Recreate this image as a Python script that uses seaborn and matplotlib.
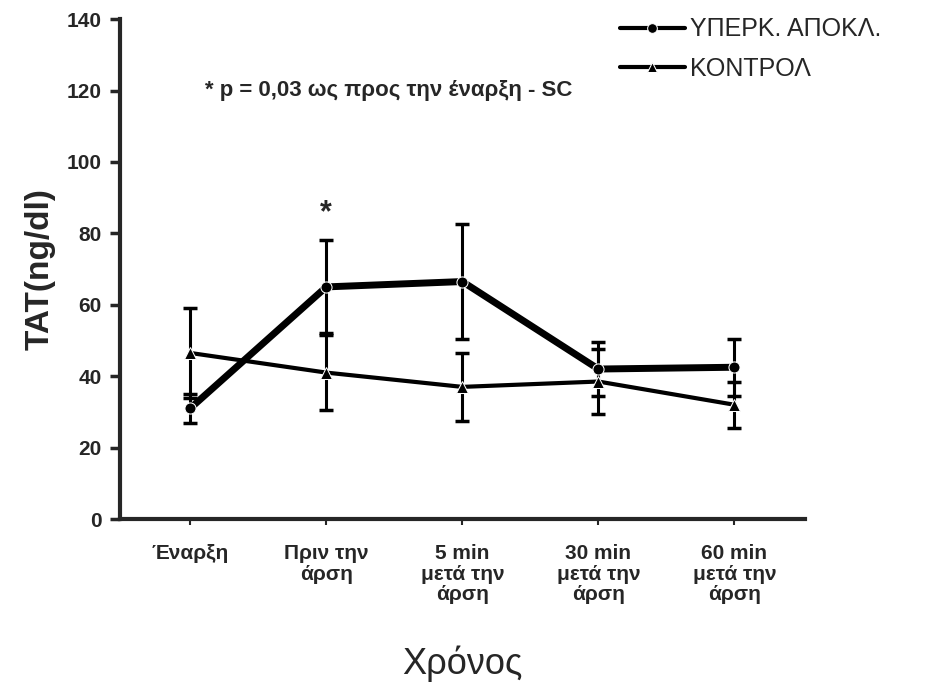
import pandas as pd
import matplotlib
matplotlib.use("Agg")
import matplotlib.pyplot as plt
import seaborn as sns

# data
times = ["Έναρξη", "Πριν την\nάρση", "5 min\nμετά την\nάρση", "30 min\nμετά την\nάρση", "60 min\nμετά την\nάρση"]
hyper_mean = [31, 65, 66.5, 42, 42.5]
hyper_err = [4, 13, 16, 7.5, 8]
control_mean = [46.5, 41, 37, 38.5, 32]
control_err = [12.5, 10.5, 9.5, 9, 6.5]
groups = ["ΥΠΕΡΚ. ΑΠΟΚΛ.", "ΚΟΝΤΡΟΛ"]

sns.set_style("white")
plt.rcParams['font.family'] = ['Liberation Sans', 'DejaVu Sans']

df = pd.DataFrame({
    'x': list(range(len(times))) * 2,
    'TAT': hyper_mean + control_mean,
    'group': [groups[0]] * len(times) + [groups[1]] * len(times),
})

fig = plt.figure(figsize=(9.34, 6.82), dpi=100)
ax = fig.add_axes([0.128, 0.239, 0.734, 0.733])

# error bars first, lines on top
ax.errorbar(range(len(times)), hyper_mean, yerr=hyper_err, fmt='none',
            ecolor='black', elinewidth=2.2, capsize=5, capthick=2.5, zorder=2)
ax.errorbar(range(len(times)), control_mean, yerr=control_err, fmt='none',
            ecolor='black', elinewidth=2.2, capsize=5, capthick=2.5, zorder=2)

sns.lineplot(data=df[df['group'] == groups[0]], x='x', y='TAT', ax=ax,
             color='black', linewidth=5, marker='o', markersize=8,
             label=groups[0], zorder=3)
sns.lineplot(data=df[df['group'] == groups[1]], x='x', y='TAT', ax=ax,
             color='black', linewidth=3, marker='^', markersize=8,
             label=groups[1], zorder=3)

ax.set_xlim(-0.52, 4.52)
ax.set_ylim(0, 140)
ax.set_yticks(range(0, 141, 20))
ax.set_xticks(range(len(times)))
ax.set_xticklabels(times, fontsize=15, fontweight='bold', linespacing=1.1)
for lab in ax.get_yticklabels():
    lab.set_fontsize(15)
    lab.set_fontweight('bold')

sns.despine(ax=ax)
ax.spines['left'].set_linewidth(3)
ax.spines['bottom'].set_linewidth(3)
ax.tick_params(axis='y', direction='out', length=7, width=2.5, left=True, pad=6)
ax.tick_params(axis='x', direction='out', length=4, width=1.5, bottom=True, pad=14)

ax.set_xlabel("Χρόνος", fontsize=26, labelpad=30)
ax.set_ylabel("TAT(ng/dl)", fontsize=24, fontweight='bold', labelpad=8)

ax.text(1, 81.5, "*", fontsize=22, fontweight='bold', ha='center', va='bottom')
ax.text(0.22, 0.868, "* p = 0,03 ως προς την έναρξη - SC", transform=fig.transFigure,
        fontsize=16, fontweight='bold', ha='left', va='center')

leg = ax.legend(loc='upper left', bbox_to_anchor=(0.645, 1.0), bbox_transform=fig.transFigure,
                frameon=False, fontsize=18, handlelength=2.6, handletextpad=0.2,
                labelspacing=0.6, borderaxespad=0.3)
for h in leg.get_lines():
    h.set_linewidth(3)
    h.set_markersize(7)

fig.savefig("out.png", dpi=100)
